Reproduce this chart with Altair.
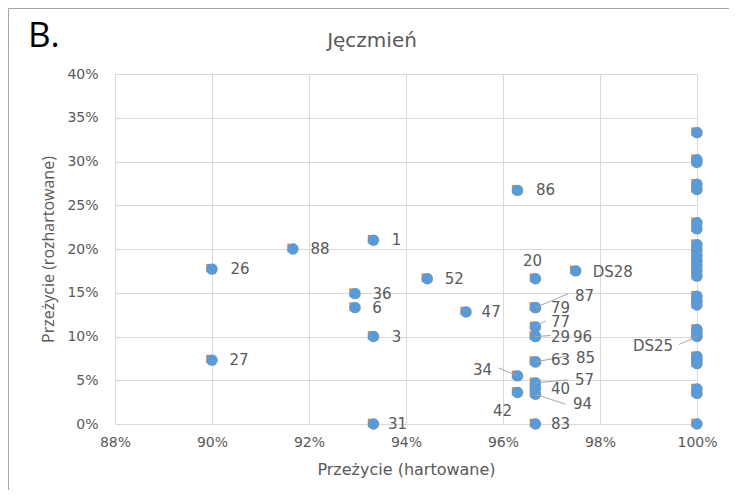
import altair as alt
import pandas as pd

# ---- data ----
names = ["1", "88", "26", "52", "36", "6", "47", "3", "27", "31", "86",
         "20", "DS28", "79", "87", "77", "29", "96", "63", "85", "34",
         "42", "57", "40", "94", "83", "DS25"]
hart = [0.9333, 0.9167, 0.9000, 0.9444, 0.9295, 0.9295, 0.9524, 0.9333, 0.9000, 0.9333, 0.9630,
        0.9667, 0.9750, 0.9667, 0.9667, 0.9667, 0.9667, 0.9667, 0.9667, 0.9667, 0.9630,
        0.9630, 0.9667, 0.9667, 0.9667, 0.9667, 1.0000]
rozh = [0.210, 0.200, 0.177, 0.166, 0.149, 0.133, 0.128, 0.100, 0.073, 0.000, 0.267,
        0.166, 0.175, 0.133, 0.133, 0.111, 0.100, 0.100, 0.071, 0.071, 0.055,
        0.036, 0.047, 0.041, 0.034, 0.000, 0.100]

# unlabelled points at 100 % hardened survival
rozh_100 = [0.333, 0.302, 0.299, 0.274, 0.268, 0.230, 0.223, 0.205, 0.199, 0.193,
            0.187, 0.181, 0.175, 0.169, 0.146, 0.141, 0.136, 0.108, 0.104,
            0.077, 0.073, 0.069, 0.040, 0.035, 0.000]

# ---- label layout (pixel offsets from the point) ----
label_dx = [23, 27, 28, 27, 27, 22, 25, 23, 27, 24, 28,
            -3, 37, 25, 49, 25, 25, 47, 25, 50, -35,
            -15, 49, 25, 47, 25, -44]
label_dy = [0, 0, 0, 0, 0, 0, 0, 0, 0, 0, 0,
            -18, 1, 0, -12, -5, 0, 0, -2, -4, -6,
            18, -3, 1, 10, 0, 9]
leader_dx = [None] * 14 + [33, 10, None, 15, None, 33, -19, None, 33, None, 30, None, -18]
leader_dy = [None] * 14 + [-14, -6, None, -1, None, -6, -8, None, -3, None, 10, None, 8]

W, H = 582, 350
X0, X1 = 0.88, 1.00
Y0, Y1 = 0.0, 0.40
sx = (X1 - X0) / W
sy = (Y1 - Y0) / H

pts = pd.DataFrame({
    "name": names + [""] * len(rozh_100),
    "x": hart + [1.0] * len(rozh_100),
    "y": rozh + rozh_100,
})

lab = pd.DataFrame({"name": names, "x": hart, "y": rozh,
                    "dx": label_dx, "dy": label_dy})
lab["lx"] = lab["x"] + lab["dx"] * sx
lab["ly"] = lab["y"] - lab["dy"] * sy

lead_rows = []
for n, x, y, ldx, ldy in zip(names, hart, rozh, leader_dx, leader_dy):
    if ldx is not None:
        lead_rows.append({"name": n, "x": x, "y": y,
                          "x2": x + ldx * sx, "y2": y - ldy * sy})
lead = pd.DataFrame(lead_rows)

FONT = "DejaVu Sans"
FONT2 = "Open Sans"
GRAY = "#595959"

xs = alt.Scale(domain=[X0, X1], nice=False, zero=False)
ys = alt.Scale(domain=[Y0, Y1], nice=False, zero=False)

xenc = alt.X("x:Q", scale=xs,
             axis=alt.Axis(title="Przeżycie (hartowane)", format=".0%",
                           values=[0.88, 0.90, 0.92, 0.94, 0.96, 0.98, 1.00],
                           grid=True, gridColor="#D9D9D9", domain=False, ticks=False,
                           labelPadding=11, titlePadding=12, labelFlush=False,
                           titleFont=FONT, titleFontSize=16))
yenc = alt.Y("y:Q", scale=ys,
             axis=alt.Axis(title="Przeżycie (rozhartowane)", format=".0%",
                           values=[0, 0.05, 0.10, 0.15, 0.20, 0.25, 0.30, 0.35, 0.40],
                           grid=True, gridColor="#D9D9D9", domain=False, ticks=False,
                           labelPadding=17, titlePadding=10, labelFlush=False,
                           titleFont=FONT2, titleFontSize=16))

squares = alt.Chart(pts).mark_square(size=72, color="#ED7D31", opacity=1,
                                     xOffset=-1.5, yOffset=-1).encode(x=xenc, y=yenc)
circles = alt.Chart(pts).mark_circle(size=130, color="#5B9BD5", opacity=1).encode(x="x:Q", y="y:Q")

leaders = alt.Chart(lead).mark_rule(color="#A6A6A6", strokeWidth=1).encode(
    x="x:Q", y="y:Q", x2="x2:Q", y2="y2:Q")

labels = alt.Chart(lab).mark_text(font=FONT, fontSize=15, color=GRAY,
                                  align="center", baseline="middle").encode(
    x="lx:Q", y="ly:Q", text="name:N")

panel = alt.Chart(pd.DataFrame({"t": ["B."]})).mark_text(
    font=FONT2, fontSize=35, color="#000000", align="left", baseline="middle").encode(
    x=alt.value(-87), y=alt.value(-38), text="t:N")

title = alt.Chart(pd.DataFrame({"t": ["Jęczmień"]})).mark_text(
    font=FONT, fontSize=20, color=GRAY, align="center", baseline="middle").encode(
    x=alt.value(257), y=alt.value(-33), text="t:N")

frame_top = alt.Chart(pd.DataFrame({"a": [0]})).mark_rule(color="#A6A6A6", strokeWidth=1).encode(
    x=alt.value(-106.5), x2=alt.value(614), y=alt.value(-65.5))
frame_left = alt.Chart(pd.DataFrame({"a": [0]})).mark_rule(color="#A6A6A6", strokeWidth=1).encode(
    x=alt.value(-106.5), y=alt.value(-65.5), y2=alt.value(432))

chart = alt.layer(frame_top, frame_left, squares, circles, leaders, labels, panel, title).properties(
    width=W, height=H,
    autosize=alt.AutoSizeParams(type="none"),
    padding={"left": 107, "top": 66, "right": 32, "bottom": 66},
).configure_view(stroke=None).configure_axis(
    labelFont=FONT, labelFontSize=14, labelColor=GRAY,
    titleColor=GRAY, titleFontWeight="normal",
)

chart.save("out.html", embed_options={"renderer": "svg", "actions": False})
